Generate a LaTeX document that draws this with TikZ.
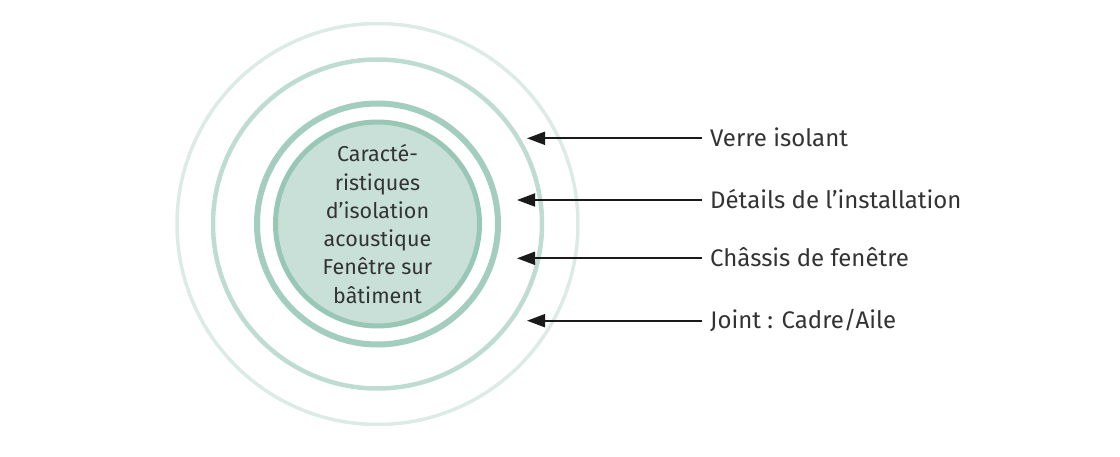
\documentclass[tikz,border=0pt]{standalone}
\usepackage{fontspec}
\setmainfont{Fira Sans}
\usetikzlibrary{arrows.meta}
\definecolor{ringout}{HTML}{DCEBE6}
\definecolor{ringmid}{HTML}{BFDCD2}
\definecolor{ringin}{HTML}{A3CDBF}
\definecolor{coreline}{HTML}{98C7B6}
\definecolor{corefill}{HTML}{C8E0D8}
\definecolor{txt}{HTML}{333333}
\definecolor{arrowc}{HTML}{1A1A1A}
\begin{document}
\begin{tikzpicture}[x=1pt, y=-1pt,
	ring/.style={circle, draw, inner sep=0pt},
	lbl/.style={anchor=west, inner xsep=8pt, inner ysep=0pt,
		text height=16.5pt, text depth=0pt, text=txt,
		font=\fontsize{24}{28}\selectfont},
	arr/.style={draw=arrowc, line width=1.8pt,
		-{Triangle[length=18pt, width=13pt]}},
]
\useasboundingbox (0,0) rectangle (1120,457);
% rings
\node[ring, minimum size=401pt, draw=ringout, line width=3.5pt] (outer) at (377.5,224) {};
\node[ring, minimum size=329pt, draw=ringmid, line width=4.5pt] (mid) at (377.5,224) {};
\node[ring, minimum size=241pt, draw=ringin, line width=6pt] (inner) at (377.5,224) {};
\node[ring, minimum size=204pt, draw=coreline, fill=corefill, line width=5pt,
	align=center, text=txt, font=\fontsize{21.5}{28.3}\selectfont] (core) at (377.5,224)
	{Caracté-\\ristiques\\d’isolation\\acoustique\\Fenêtre sur\\bâtiment};
% labels
\node[lbl] (l1) at (702,138.3) {Verre isolant};
\node[lbl] (l2) at (702,200) {Détails de l'installation};
\node[lbl] (l3) at (702,258.3) {Châssis de fenêtre};
\node[lbl] (l4) at (702,320.7) {Joint : Cadre/Aile};
\coordinate (t1) at (527,138.3);
\coordinate (t2) at (517,200);
\coordinate (t3) at (517,258.3);
\coordinate (t4) at (527,320.7);
\foreach \i in {1,...,4}
	\draw[arr] (l\i.west) -- (t\i);
\end{tikzpicture}
\end{document}
